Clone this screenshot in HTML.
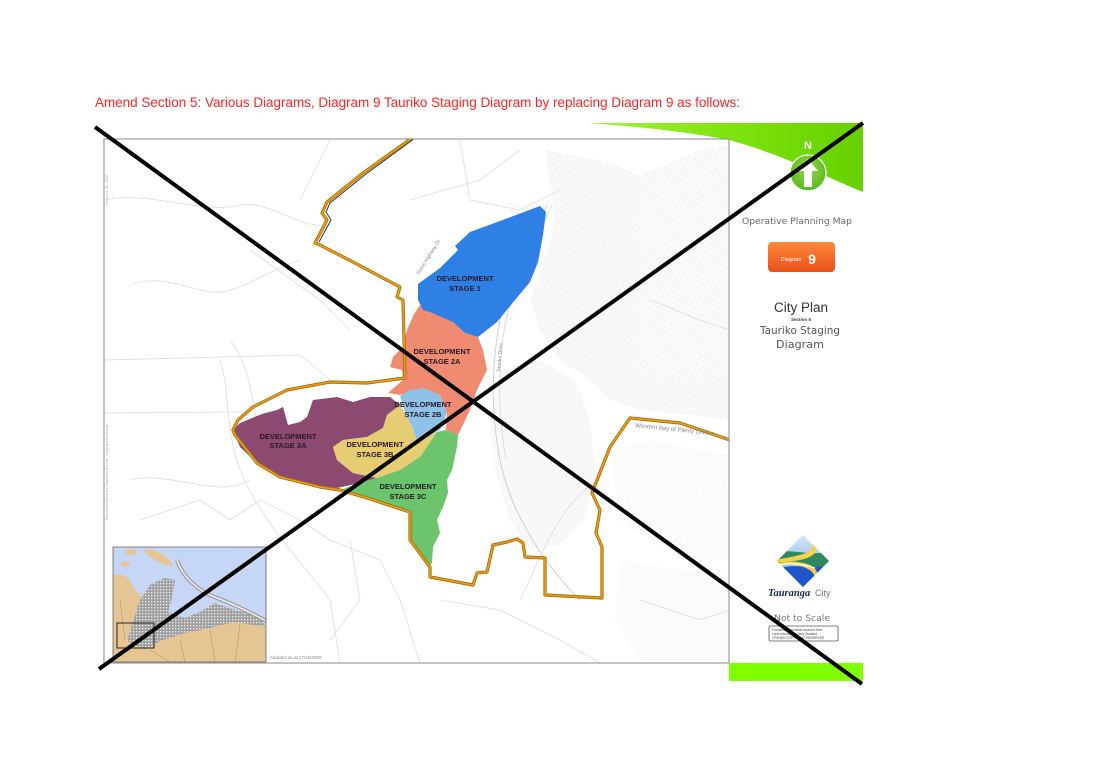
<!DOCTYPE html>
<html>
<head>
<meta charset="utf-8">
<style>
html,body{margin:0;padding:0;background:#fff;}
body{width:1107px;height:783px;overflow:hidden;}
svg{display:block;}
</style>
</head>
<body>
<svg width="1107" height="783" viewBox="0 0 1107 783" xmlns="http://www.w3.org/2000/svg">
<defs>
  <pattern id="urb" width="5" height="5" patternUnits="userSpaceOnUse" patternTransform="rotate(25)">
    <rect width="5" height="5" fill="#f8f8f8"/>
    <path d="M0 0H5M0 0V5" stroke="#dcdcdc" stroke-width="0.7"/>
  </pattern>
  <pattern id="urb2" width="4" height="4" patternUnits="userSpaceOnUse" patternTransform="rotate(-30)">
    <rect width="4" height="4" fill="#f8f8f8"/>
    <path d="M0 0H4M0 0V4" stroke="#dadada" stroke-width="0.6"/>
  </pattern>
  <pattern id="urbInset" width="3" height="3" patternUnits="userSpaceOnUse">
    <rect width="3" height="3" fill="#a0a0a0"/>
    <rect x="1" y="1" width="1.3" height="1.3" fill="#f0f0f0"/>
  </pattern>
  <linearGradient id="grn" x1="0" y1="0" x2="1" y2="0">
    <stop offset="0" stop-color="#a6f23a"/>
    <stop offset="0.5" stop-color="#7fe40e"/>
    <stop offset="1" stop-color="#66d000"/>
  </linearGradient>
  <linearGradient id="org" x1="0" y1="0" x2="0" y2="1">
    <stop offset="0" stop-color="#ff8a3a"/>
    <stop offset="1" stop-color="#e8501a"/>
  </linearGradient>
  <radialGradient id="circ" cx="0.5" cy="0.4" r="0.6">
    <stop offset="0" stop-color="#8fd84a"/>
    <stop offset="1" stop-color="#5cb81e"/>
  </radialGradient>
  <linearGradient id="sky" x1="0" y1="0" x2="0" y2="1">
    <stop offset="0" stop-color="#d7e8f8"/>
    <stop offset="1" stop-color="#6ea6e6"/>
  </linearGradient>
  <clipPath id="dia"><polygon points="803,535 829,561 803,587 777,561"/></clipPath>
  <clipPath id="mapclip"><rect x="104" y="139" width="625" height="524"/></clipPath>
</defs>

<!-- title -->
<text x="95" y="107" font-family="'Liberation Sans', Arial, sans-serif" font-size="13.5" fill="#ff2424" textLength="645" lengthAdjust="spacingAndGlyphs">Amend Section 5: Various Diagrams, Diagram 9 Tauriko Staging Diagram by replacing Diagram 9 as follows:</text>

<!-- green banner -->
<path d="M588,123 L863,123 L863,192 C820,174 775,152 729,140 C690,132 640,127 588,123 Z" fill="url(#grn)"/>

<!-- map area -->
<g clip-path="url(#mapclip)">
  <rect x="104" y="139" width="625" height="524" fill="#fff"/>
  <!-- urban texture areas -->
  <g opacity="0.6">
    <path d="M545,150 L600,160 L640,175 L700,150 L729,145 L729,420 L690,415 L640,410 L610,400 L590,380 L560,360 L540,330 L530,300 L545,260 L555,220 Z" fill="url(#urb)"/>
    <path d="M500,370 L540,360 L575,380 L590,420 L595,470 L585,520 L560,545 L530,550 L510,520 L495,470 L490,420 Z" fill="url(#urb2)"/>
    <path d="M610,450 L650,440 L700,450 L729,455 L729,560 L690,560 L650,540 L620,520 Z" fill="url(#urb)" opacity="0.6"/>
    <path d="M620,560 L680,570 L729,575 L729,660 L640,660 L615,620 Z" fill="url(#urb2)" opacity="0.5"/>
    <path d="M510,200 L545,215 L545,260 L520,300 L505,330 L500,300 L505,250 Z" fill="url(#urb2)" opacity="0.6"/>
  </g>
  <!-- faint road lines -->
  <g fill="none" stroke="#dcdcdc" stroke-width="0.8">
    <path d="M104,200 C150,190 200,215 240,205 C270,200 300,230 330,225"/>
    <path d="M130,285 C170,270 200,300 230,290 C250,285 270,270 300,260"/>
    <path d="M104,360 L300,355 L330,380"/>
    <path d="M104,413 L240,412"/>
    <path d="M220,360 C230,390 225,430 240,470 C260,520 300,560 330,600 L340,663"/>
    <path d="M230,340 C260,380 250,430 270,470"/>
    <path d="M130,480 C170,470 220,500 250,480"/>
    <path d="M140,520 L200,500 L230,520 L260,500 L300,520"/>
    <path d="M300,520 L330,540 L380,560 L400,600 L420,663"/>
    <path d="M350,540 L360,600 L330,640"/>
    <path d="M440,600 L500,610 L560,640 L600,663"/>
    <path d="M460,140 L470,200 L520,210 L560,190"/>
    <path d="M410,200 L480,180 L520,150"/>
    <path d="M300,200 L330,140"/>
    <path d="M250,250 L320,300 L350,330"/>
    <path d="M650,300 L700,320 L729,330"/>
    <path d="M600,480 C560,500 540,560 520,600"/>
    <path d="M640,600 L700,620 L729,610"/>
  </g>
  <!-- river / Tauriko drive corridor -->
  <path d="M547,205 C530,240 510,280 500,320 C492,360 490,410 500,460 C510,510 540,560 580,600" fill="none" stroke="#cfcfcf" stroke-width="1"/>
  <path d="M552,205 C535,240 515,280 506,320 C498,360 497,410 506,460" fill="none" stroke="#d6d6d6" stroke-width="0.8"/>

  <!-- Stage 2A salmon -->
  <polygon points="420,305 430,310 453,322 465,333 478,337 483,350 487,370 477,390 470,410 458,435 446,430 447,413 440,395 423,388 400,395 388,393 403,380 402,370 390,367 393,357 403,347 407,330 414,314" fill="#f08a70"/>
  <!-- Stage 1 blue -->
  <polygon points="455,246 470,232 500,221 540,206 546,212 543,235 538,262 530,282 515,300 497,322 478,337 465,333 453,322 430,312 423,310 418,300 418,284 440,268 458,250" fill="#2f80e4"/>
  <!-- Stage 3A purple -->
  <polygon points="233,430 240,423 262,414 277,410 283,407 288,425 300,422 307,417 313,400 337,397 353,402 370,397 390,397 400,405 387,415 383,428 367,437 343,440 333,447 337,460 353,473 377,478 360,483 337,488 320,487 303,483 280,477 257,463 240,447" fill="#8c4a70"/>
  <!-- Stage 3B yellow -->
  <polygon points="387,415 400,405 408,418 417,440 437,432 420,457 400,470 377,478 353,473 337,460 333,447 343,440 367,437 383,428" fill="#e6cc72"/>
  <!-- Stage 2B light blue -->
  <polygon points="400,396 410,390 423,388 440,395 447,413 440,430 427,437 417,440 412,427 405,412" fill="#8ec2e6"/>
  <!-- Stage 3C green -->
  <polygon points="340,490 360,483 377,478 400,470 420,457 437,432 446,430 458,435 457,447 452,470 447,480 448,493 443,507 437,520 440,533 433,547 432,563 428,567 410,540 410,512 367,498" fill="#6cc46c"/>

  <!-- boundary -->
  <path d="M415,138 L366,174 L330,203 L326,212 L331,220 L319,242" fill="none" stroke="#333" stroke-width="1"/>
  <path d="M412,138 L363,173 L327,202 L322,213 L327,220 L315,243 L320,245 L353,262 L400,287 L397,297 L403,300 L405,378 L367,383 L330,382 L287,390 L253,407 L238,420 L233,430 L235,435 L257,463 L280,477 L320,487 L340,490 L367,498 L410,512 L410,540 L430,567 L430,577 L473,585 L477,573 L487,572 L493,545 L507,542 L517,539 L523,543 L525,557 L545,558 L545,595 L602,598 L602,547 L596,533 L600,510 L592,493 L610,447 L630,418 L680,423 L730,440" fill="none" stroke="#a56a00" stroke-width="3.2" stroke-linejoin="round"/>
  <path d="M412,138 L363,173 L327,202 L322,213 L327,220 L315,243 L320,245 L353,262 L400,287 L397,297 L403,300 L405,378 L367,383 L330,382 L287,390 L253,407 L238,420 L233,430 L235,435 L257,463 L280,477 L320,487 L340,490 L367,498 L410,512 L410,540 L430,567 L430,577 L473,585 L477,573 L487,572 L493,545 L507,542 L517,539 L523,543 L525,557 L545,558 L545,595 L602,598 L602,547 L596,533 L600,510 L592,493 L610,447 L630,418 L680,423 L730,440" fill="none" stroke="#e5a020" stroke-width="1.6" stroke-linejoin="round"/>

  <!-- labels -->
  <g font-family="'Liberation Sans', Arial, sans-serif" font-weight="bold" font-size="7.5" fill="#2a1a2a" text-anchor="middle">
    <text x="465" y="281">DEVELOPMENT</text><text x="465" y="291">STAGE 1</text>
    <text x="442" y="354">DEVELOPMENT</text><text x="442" y="364">STAGE 2A</text>
    <text x="423" y="407">DEVELOPMENT</text><text x="423" y="417">STAGE 2B</text>
    <text x="288" y="439">DEVELOPMENT</text><text x="288" y="448">STAGE 3A</text>
    <text x="375" y="447">DEVELOPMENT</text><text x="375" y="457">STAGE 3B</text>
    <text x="408" y="489">DEVELOPMENT</text><text x="408" y="499">STAGE 3C</text>
  </g>
  <g font-family="'Liberation Sans', Arial, sans-serif" font-size="5" fill="#888">
    <text transform="translate(500,372) rotate(-85)">Tauriko Drive</text>
    <text transform="translate(419,275) rotate(-58)">Stone Highway Dr</text>
    <text transform="translate(635,427) rotate(6)" font-size="6">Western Bay of Plenty District</text>
    <text x="270" y="659" font-size="4.5">Adopted as at 17/10/2009</text>
    <text transform="translate(108,520) rotate(-90)" font-size="3.5" fill="#aaa">Reproduced from the Cadastral Record - Copyright Reserved</text>
    <text transform="translate(108,205) rotate(-90)" font-size="3.5" fill="#aaa">Version 1.06 - 2009</text>
  </g>

  <!-- inset map -->
  <rect x="113" y="547" width="153" height="115" fill="#c6d6f6"/>
  <polygon points="113,575 120,574 128,578 135,590 150,605 160,615 175,628 200,617 233,614 266,626 266,662 113,662" fill="#e6c594"/>
  <ellipse cx="131" cy="552" rx="6" ry="3" fill="#e6c594"/>
  <ellipse cx="125" cy="564" rx="5" ry="2.5" fill="#e6c594"/>
  <path d="M143,550 C155,548 168,555 173,566 C165,566 152,560 143,550 Z" fill="#e6c594"/>
  <path d="M127,641 L133,622 L140,600 L150,585 L165,578 L175,580 L172,598 L168,612 L185,618 L200,612 L215,603 L232,609 L262,617 L265,627 L235,622 L210,628 L185,633 L160,641 L145,650 Z" fill="url(#urbInset)"/>
  <path d="M177,560 C182,575 195,590 217,598 C235,605 250,612 266,621" fill="none" stroke="#9a9a9a" stroke-width="4"/>
  <path d="M177,560 C182,575 195,590 217,598 C235,605 250,612 266,621" fill="none" stroke="#f2f2f2" stroke-width="1.5"/>
  <g fill="none" stroke="#a09070" stroke-width="0.5">
    <path d="M120,600 L125,640 M180,640 L185,662 M210,630 L215,662 M240,625 L235,662 M150,650 L170,662"/>
  </g>
  <rect x="117" y="623" width="37" height="25" fill="none" stroke="#222" stroke-width="1"/>
  <rect x="113" y="547" width="153" height="115" fill="none" stroke="#666" stroke-width="0.8"/>
</g>
<rect x="104" y="139" width="625" height="524" fill="none" stroke="#8a8a8a" stroke-width="1"/>

<!-- sidebar -->
<circle cx="808" cy="173" r="18" fill="url(#circ)" stroke="#fff" stroke-width="1.2"/>
<polygon points="808,159 818,171 812,171 812,187 804,187 804,171 798,171" fill="#fff"/>
<text x="808" y="149" font-family="'Liberation Sans', Arial, sans-serif" font-weight="bold" font-size="11" fill="#fff" text-anchor="middle">N</text>
<text x="797" y="224" font-family="'DejaVu Sans', 'Liberation Sans', sans-serif" font-size="9" fill="#666" text-anchor="middle" textLength="110" lengthAdjust="spacingAndGlyphs">Operative Planning Map</text>
<rect x="768" y="242" width="67" height="30" rx="4" fill="url(#org)"/>
<text x="791" y="261" font-family="'Liberation Sans', Arial, sans-serif" font-size="5.5" fill="#fff" text-anchor="middle">Diagram</text>
<text x="812" y="264" font-family="'Liberation Sans', Arial, sans-serif" font-weight="bold" font-size="14" fill="#fff" text-anchor="middle">9</text>
<text x="801" y="312" font-family="'Liberation Sans', Arial, sans-serif" font-size="13.5" fill="#333" text-anchor="middle">City Plan</text>
<text x="801" y="321" font-family="'Liberation Sans', Arial, sans-serif" font-weight="bold" font-size="4.5" fill="#333" text-anchor="middle">Section 5</text>
<text x="800" y="334" font-family="'DejaVu Sans', 'Liberation Sans', sans-serif" font-size="11" fill="#555" text-anchor="middle" textLength="80" lengthAdjust="spacingAndGlyphs">Tauriko Staging</text>
<text x="800" y="348" font-family="'DejaVu Sans', 'Liberation Sans', sans-serif" font-size="11" fill="#555" text-anchor="middle" textLength="48" lengthAdjust="spacingAndGlyphs">Diagram</text>

<!-- logo -->
<g clip-path="url(#dia)">
  <rect x="775" y="533" width="56" height="56" fill="url(#sky)"/>
  <path d="M775,553 C790,548 805,556 831,552 L831,566 C810,570 790,560 775,568 Z" fill="#2e8a5c"/>
  <path d="M775,570 C792,562 812,570 831,565 L831,590 L775,590 Z" fill="#1f55c8"/>
  <path d="M806,535 C822,545 820,556 800,560 C790,562 782,562 775,563 L775,560 C785,558 800,556 808,552 C815,548 812,542 803,535 Z" fill="#f2d24a"/>
  <path d="M775,566 C790,562 806,566 812,572 C818,578 812,584 806,590 L810,590 C820,582 820,572 812,566 C800,560 785,561 775,564 Z" fill="#f2d24a"/>
  <path d="M780,565 C795,562 808,566 815,568" fill="none" stroke="#fff" stroke-width="1.3"/>
</g>
<text x="768" y="596" font-family="'Liberation Serif', serif" font-weight="bold" font-style="italic" font-size="10.5" fill="#1f2a44">Tauranga</text>
<text x="815" y="596" font-family="'Liberation Sans', sans-serif" font-size="9" fill="#777">City</text>
<text x="802" y="621" font-family="'DejaVu Sans', 'Liberation Sans', sans-serif" font-size="8.5" fill="#777" text-anchor="middle" textLength="56" lengthAdjust="spacingAndGlyphs">Not to Scale</text>
<rect x="769" y="626" width="69" height="15" rx="1.5" fill="#fff" stroke="#555" stroke-width="0.8"/>
<g font-family="'Liberation Sans', sans-serif" font-size="3.3" fill="#444">
  <text x="772" y="631">Contains information sourced from</text>
  <text x="772" y="635">Land Information New Zealand</text>
  <text x="772" y="639">CROWN COPYRIGHT RESERVED</text>
</g>
<rect x="729" y="663" width="134" height="18" fill="#7fff00"/>

<!-- black X -->
<line x1="95" y1="127" x2="862" y2="684" stroke="#000" stroke-width="4"/>
<line x1="863" y1="123" x2="99" y2="669" stroke="#000" stroke-width="4"/>
</svg>
</body>
</html>
